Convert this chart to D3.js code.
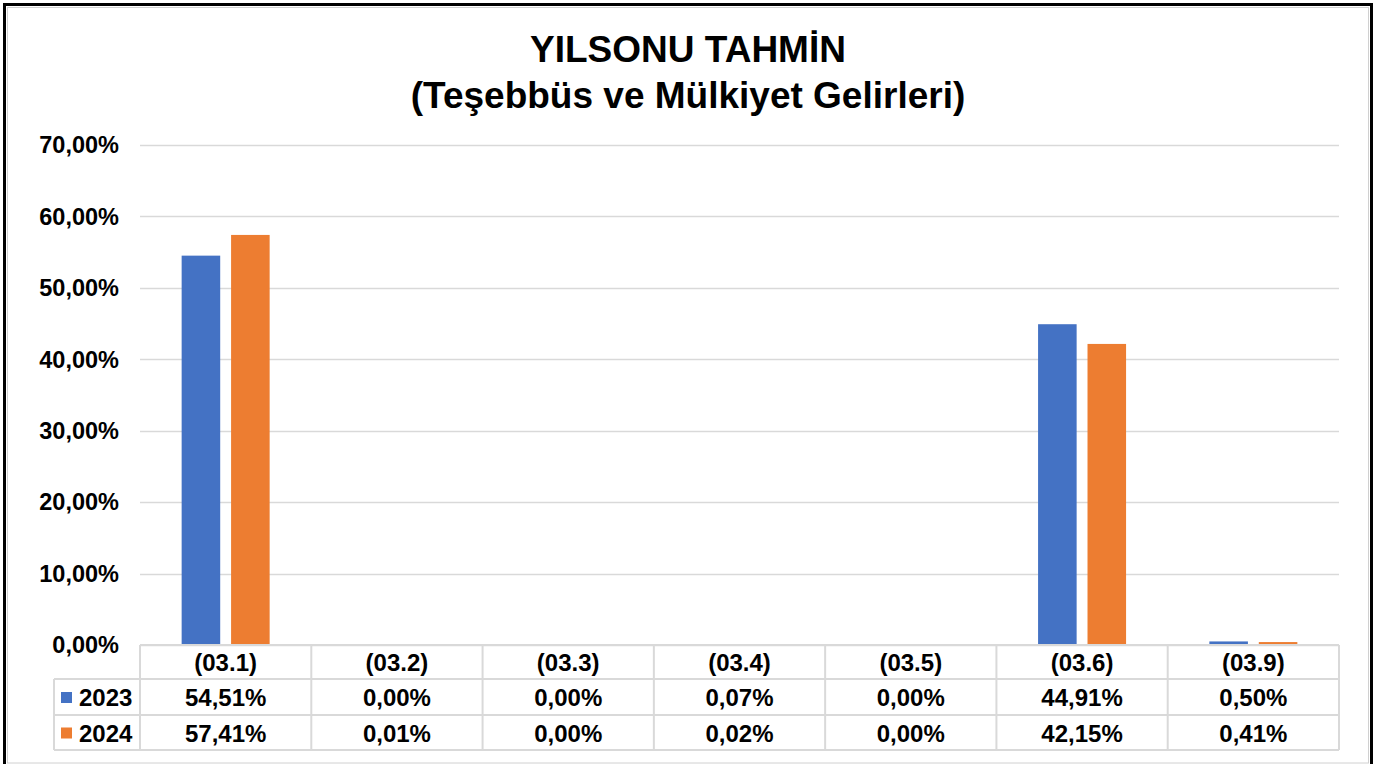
<!DOCTYPE html>
<html>
<head>
<meta charset="utf-8">
<script src="https://cdn.jsdelivr.net/npm/d3@7"></script>
<style>
  body { margin: 0; background: #fff; }
  svg { display: block; font-family: "Liberation Sans", Arial, sans-serif; }
</style>
</head>
<body>
<svg id="chart" width="1378" height="764"></svg>
<script>
const categories = ['(03.1)', '(03.2)', '(03.3)', '(03.4)', '(03.5)', '(03.6)', '(03.9)']
const seriesNames = ['2023', '2024']
const values2023 = [54.51, 0.00, 0.00, 0.07, 0.00, 44.91, 0.50]
const values2024 = [57.41, 0.01, 0.00, 0.02, 0.00, 42.15, 0.41]
const yTicks = [0, 10, 20, 30, 40, 50, 60, 70]
const colors = ['#4472C4', '#ED7D31']

const svg = d3.select('#chart')

// frame
svg.append('rect').attr('x', 4.5).attr('y', 4.5).attr('width', 1367).attr('height', 770)
  .attr('fill', 'none').attr('stroke', '#000').attr('stroke-width', 3)
svg.append('rect').attr('x', 7.5).attr('y', 7.5).attr('width', 1361).attr('height', 755.5)
  .attr('fill', 'none').attr('stroke', '#d0d0d0').attr('stroke-width', 1)

// title
svg.append('text').attr('x', 688).attr('y', 62).attr('text-anchor', 'middle')
  .attr('font-size', 37).attr('font-weight', 'bold').text('YILSONU TAHMİN')
svg.append('text').attr('x', 688).attr('y', 108).attr('text-anchor', 'middle')
  .attr('font-size', 37).attr('font-weight', 'bold').text('(Teşebbüs ve Mülkiyet Gelirleri)')

const plotLeft = 140, plotRight = 1339, plotTop = 145, zero = 645

const x = d3.scaleBand().domain(categories).range([plotLeft, plotRight]).padding(0)
const y = d3.scaleLinear().domain([0, 70]).range([zero, plotTop])
const x1 = d3.scaleBand().domain(seriesNames).range([-44, 44]).paddingInner(0.22)

// grid
svg.append('g').selectAll('line').data(yTicks).enter().append('line')
  .attr('x1', plotLeft).attr('x2', plotRight)
  .attr('y1', d => Math.round(y(d)) + 0.5).attr('y2', d => Math.round(y(d)) + 0.5)
  .attr('stroke', '#d9d9d9').attr('stroke-width', 1.5)

// y axis labels
svg.append('g').selectAll('text').data(yTicks).enter().append('text')
  .attr('x', 119).attr('y', d => y(d)).attr('dy', '0.35em')
  .attr('text-anchor', 'end').attr('font-size', 23.5).attr('font-weight', 'bold')
  .text(d => d3.format('.2f')(d).replace('.', ',') + '%')

// bars
const series = [values2023, values2024]
series.forEach((vals, si) => {
  svg.append('g').selectAll('rect').data(vals).enter().append('rect')
    .attr('x', (d, i) => x(categories[i]) + x.bandwidth() / 2 + x1(seriesNames[si]))
    .attr('width', x1.bandwidth())
    .attr('y', d => y(d))
    .attr('height', d => zero - y(d))
    .attr('fill', colors[si])
})

// data table
const rowH = [645, 679, 715, 750]
const tableLeft = 54
const tg = svg.append('g')
const lineColor = '#d9d9d9'
// horizontal lines
tg.append('line').attr('x1', plotLeft).attr('x2', plotRight).attr('y1', rowH[0]).attr('y2', rowH[0])
  .attr('stroke', lineColor).attr('stroke-width', 2)
rowH.slice(1).forEach(yy => {
  tg.append('line').attr('x1', tableLeft).attr('x2', plotRight).attr('y1', yy).attr('y2', yy)
    .attr('stroke', lineColor).attr('stroke-width', 2)
})
// vertical lines
categories.concat(['end']).forEach((c, i) => {
  const xx = i < categories.length ? x(c) : plotRight
  tg.append('line').attr('x1', xx).attr('x2', xx).attr('y1', rowH[0]).attr('y2', rowH[3])
    .attr('stroke', lineColor).attr('stroke-width', 2)
})
tg.append('line').attr('x1', tableLeft).attr('x2', tableLeft).attr('y1', rowH[1]).attr('y2', rowH[3])
  .attr('stroke', lineColor).attr('stroke-width', 2)

// header labels
tg.selectAll('text.cat').data(categories).enter().append('text')
  .attr('x', d => x(d) + x.bandwidth() / 2).attr('y', (rowH[0] + rowH[1]) / 2 + 1).attr('dy', '0.35em')
  .attr('text-anchor', 'middle').attr('font-size', 24).attr('font-weight', 'bold').text(d => d)

const fmt = v => d3.format('.2f')(v).replace('.', ',') + '%'
series.forEach((vals, si) => {
  const cy = (rowH[si + 1] + rowH[si + 2]) / 2 + 1
  tg.append('rect').attr('x', 61).attr('y', cy - 6).attr('width', 11).attr('height', 11).attr('fill', colors[si])
  tg.append('text').attr('x', 79).attr('y', cy).attr('dy', '0.35em')
    .attr('font-size', 24).attr('font-weight', 'bold').text(seriesNames[si])
  tg.selectAll('text.v' + si).data(vals).enter().append('text')
    .attr('x', (d, i) => x(categories[i]) + x.bandwidth() / 2).attr('y', cy).attr('dy', '0.35em')
    .attr('text-anchor', 'middle').attr('font-size', 24).attr('font-weight', 'bold').text(d => fmt(d))
})
</script>
</body>
</html>
